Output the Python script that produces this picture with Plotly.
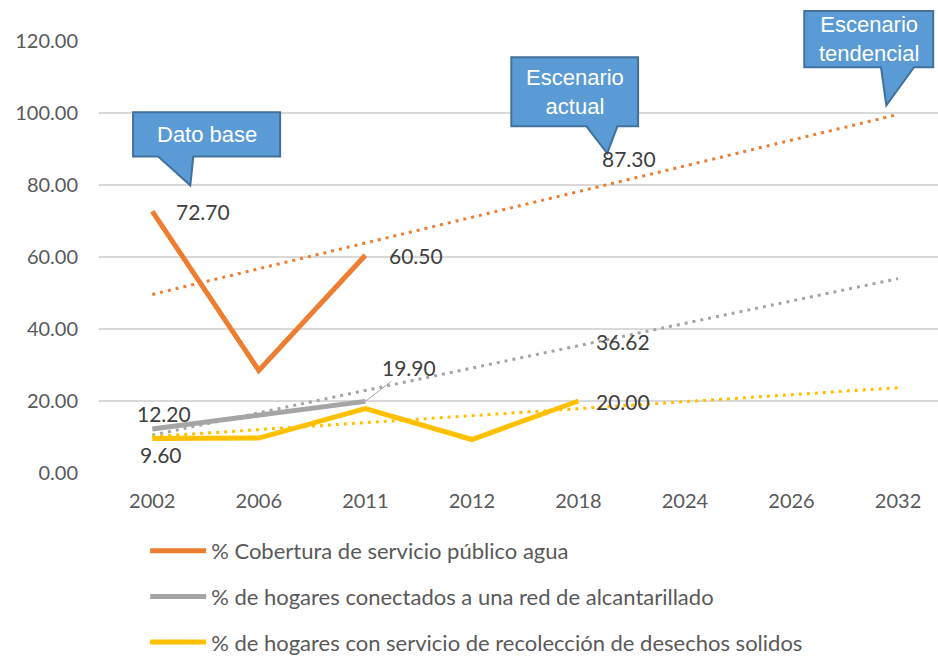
import plotly.graph_objects as go

# Categories (years) and observed series
years = ["2002", "2006", "2011", "2012", "2018", "2024", "2026", "2032"]

agua_years = ["2002", "2006", "2011"]
agua = [72.70, 28.5, 60.50]

alcant_years = ["2002", "2006", "2011"]
alcant = [12.20, 16.0, 19.90]

desechos_years = ["2002", "2006", "2011", "2012", "2018"]
desechos = [9.60, 9.7, 17.9, 9.3, 20.00]

# Linear trend lines (start and end of each)
trend_years = ["2002", "2032"]
agua_trend = [49.6, 99.6]
alcant_trend = [10.5, 54.0]
desechos_trend = [10.1, 23.7]

# Scenario values shown at 2018
escenario_year = "2018"
agua_2018 = 87.30
alcant_2018 = 36.62

names = [
    "% Cobertura de servicio público agua",
    "% de hogares conectados a una red de alcantarillado",
    "% de hogares con servicio de recolección de desechos solidos",
]
colors = ["#ED7D31", "#A5A5A5", "#FFC000"]

FONT = "Lato, Calibri, 'Open Sans', sans-serif"
CALLOUT_FONT = "'Liberation Sans Narrow', 'Arial Narrow', 'Liberation Sans', Arial, sans-serif"
TEXT_COLOR = "#404040"
AXIS_COLOR = "#595959"

X_RANGE = [-0.5, 7.375]
Y_RANGE = [0, 120]


def idx(year):
    """Position of a year on the category axis."""
    return years.index(year)


fig = go.Figure()

# Trend lines (dotted)
for ys, c in zip([agua_trend, alcant_trend, desechos_trend], colors):
    fig.add_trace(go.Scatter(
        x=trend_years, y=ys, mode="lines",
        line=dict(color=c, width=3, dash="3px,5px"),
        showlegend=False, hoverinfo="skip",
    ))

# Observed series
for i, (xs, ys) in enumerate([(agua_years, agua), (alcant_years, alcant),
                              (desechos_years, desechos)]):
    fig.add_trace(go.Scatter(
        x=xs, y=ys, mode="lines", name=names[i],
        line=dict(color=colors[i], width=5),
        legendgroup=f"g{i}",
    ))

# Data labels
label_font = dict(family=FONT, size=21, color=TEXT_COLOR)


def value_label(year, y, xshift=0, yshift=0, xanchor="left"):
    fig.add_annotation(x=idx(year), y=y, text=f"{y:.2f}", showarrow=False,
                       xanchor=xanchor, yanchor="middle",
                       xshift=xshift, yshift=yshift, font=label_font)


value_label(agua_years[0], agua[0], xshift=22)
value_label(agua_years[-1], agua[-1], xshift=22)
value_label(escenario_year, agua_2018, xshift=22)
value_label(escenario_year, alcant_2018, xshift=16)
value_label(desechos_years[-1], desechos[-1], xshift=16)
value_label(alcant_years[0], alcant[0], xshift=12, yshift=16, xanchor="center")
value_label(desechos_years[0], desechos[0], xshift=9, yshift=-16, xanchor="center")

# 19.90 label with a leader line
fig.add_annotation(x=idx(alcant_years[-1]), y=alcant[-1], text=f"{alcant[-1]:.2f}",
                   showarrow=True, arrowhead=0, arrowwidth=1, arrowcolor="#A5A5A5",
                   ax=44, ay=-34, font=label_font)


# Callout boxes (positions given in category-index / value units)
def to_paper(ix, v):
    return ((ix - X_RANGE[0]) / (X_RANGE[1] - X_RANGE[0]),
            (v - Y_RANGE[0]) / (Y_RANGE[1] - Y_RANGE[0]))


callouts = [
    # text, box (x0, x1, ytop, ybottom), tail base (xa, xb), tip (x, y)
    ("Dato base", (-0.18, 1.20, 100.2, 87.9), (0.056, 0.385), (0.357, 79.9)),
    ("Escenario<br>actual", (3.37, 4.56, 115.5, 96.3), (4.075, 4.366), (4.27, 88.8)),
    ("Escenario<br>tendencial", (6.12, 7.33, 128.3, 112.7), (6.84, 7.15), (6.89, 102.1)),
]

for text, (bx0, bx1, byt, byb), (ta, tb), (tx, ty) in callouts:
    pts = [to_paper(bx0, byt), to_paper(bx1, byt), to_paper(bx1, byb),
           to_paper(tb, byb), to_paper(tx, ty), to_paper(ta, byb), to_paper(bx0, byb)]
    path = "M " + " L ".join(f"{px:.5f},{py:.5f}" for px, py in pts) + " Z"
    fig.add_shape(type="path", path=path, xref="paper", yref="paper",
                  fillcolor="#5B9BD5", line=dict(color="#41719C", width=2),
                  layer="above")
    cx, cy = to_paper((bx0 + bx1) / 2, (byt + byb) / 2)
    fig.add_annotation(x=cx, y=cy, xref="paper", yref="paper", text=text,
                       showarrow=False, xanchor="center", yanchor="middle",
                       font=dict(family=CALLOUT_FONT, size=22, color="white"))

fig.update_layout(
    width=938, height=656,
    margin=dict(l=99, r=0, t=41, b=183, autoexpand=False),
    paper_bgcolor="white", plot_bgcolor="white",
    font=dict(family=FONT, size=20, color=AXIS_COLOR),
    showlegend=True,
    legend=dict(
        orientation="v", x=0.055, y=-0.132, xanchor="left", yanchor="top",
        font=dict(family=FONT, size=22, color=AXIS_COLOR),
        tracegroupgap=14, itemwidth=56, bgcolor="rgba(0,0,0,0)",
    ),
    xaxis=dict(
        type="category", categoryorder="array", categoryarray=years,
        range=X_RANGE, showgrid=False, zeroline=False, showline=False,
        ticks="", tickfont=dict(family=FONT, size=20, color=AXIS_COLOR),
        ticklabelstandoff=14,
    ),
    yaxis=dict(
        range=Y_RANGE, dtick=20, tickformat=".2f",
        showgrid=True, gridcolor="#D9D9D9", gridwidth=1.5,
        zeroline=False, showline=False, ticks="",
        tickfont=dict(family=FONT, size=20, color=AXIS_COLOR),
        ticklabelstandoff=20,
    ),
)

fig.write_html("out.html")
